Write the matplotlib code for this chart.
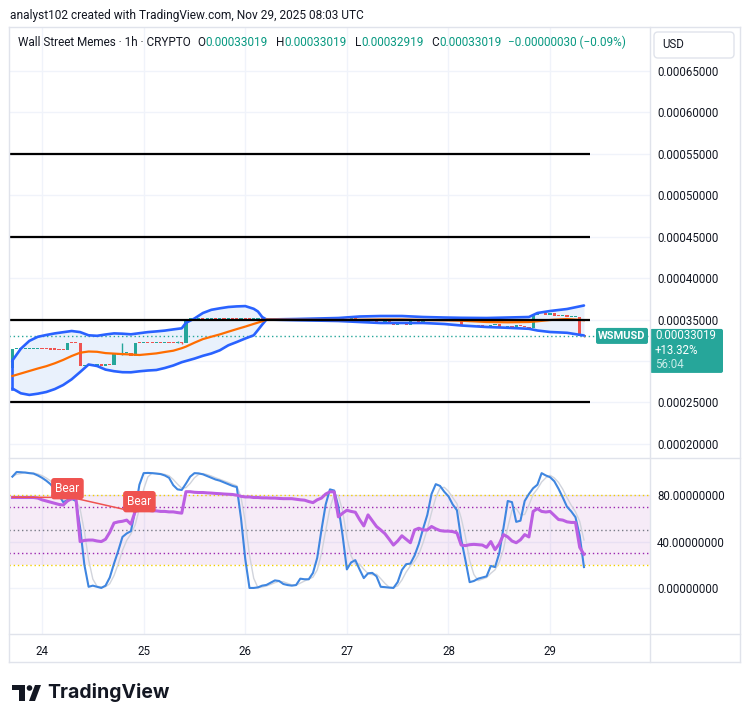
import numpy as np
import pandas as pd
import matplotlib
matplotlib.use("Agg")
import matplotlib.pyplot as plt
from matplotlib.patches import Rectangle, FancyBboxPatch, Circle, Polygon

plt.rcParams['font.family'] = ['Roboto', 'DejaVu Sans']

# WSMUSD 1h candles, hours counted from Nov 24 00:00 UTC, prices in 1e-8 USD
first_open = 29150
closes = [
    31400, 31410, 31420, 31425, 31430, 31440, 31445,
    31420, 31400, 31380, 31360, 31340, 31300, 32180, 32150, 32120, 29390,
    29430, 29480, 29440, 29470, 29430, 29480, 29450, 30920, 30700, 30950,
    31000, 30600, 32200, 32180, 32190, 32170, 32150, 32160, 32140, 32150,
    32130, 32110, 32250, 32150, 35000, 35010, 34995, 35005, 34990, 35000,
    35010, 34995, 35000, 34990, 35005, 35000, 34995, 35010, 35000, 34990,
    35000, 35005, 34995, 35000, 35010, 35000, 34995, 35000, 35005, 34990,
    35000, 35010, 35000, 34995, 35005, 35000, 35010, 35000,
    35181, 34940, 35302, 34819, 35060, 35181, 34698, 34940, 34578, 34819,
    35060, 34698, 34457, 34819, 34698,
    34336, 34698, 34578, 34336, 34879, 34819, 34698, 34819, 34879, 34940,
    34930, 34903, 34940, 34910, 34940, 34880, 34216,
    34220, 34200, 34230, 34210, 34180,
    34035, 34336, 34457, 34095, 33974, 34276, 34095, 34336, 34216, 34035, 33938,
    35543, 35784, 35820, 35603, 35808, 35422, 35398, 35483, 35302, 35326, 35338,
    33049, 33019,
]
hours = np.arange(len(closes)) - 7

wick_hours = [-7, 19, 32, 33, 128]
wick_highs = [31400, 32200, 32350, 32300, 33019]
wick_lows = [28700, 30700, 32150, 32050, 32919]

# bollinger bands
bb_hours = [-7, -5, -3, -1, 1, 3, 5, 7, 9, 11, 13, 15, 17, 19, 21, 23, 25, 27, 29, 31, 33,
            34, 36, 38, 40, 42, 44, 46, 48, 50, 51, 52, 53,
            60, 70, 75, 80, 85, 90, 95, 99, 105, 110, 115, 117, 120, 124, 128]
bb_upper = [30053, 31477, 32418, 32913, 33130, 33323, 33468, 33612, 33480, 33094, 33033,
            33190, 33323, 33287, 33214, 33347, 33480, 33564, 33661, 33805, 33938,
            34602, 35121, 35784, 36170, 36351, 36508, 36581, 36617, 36291, 35965, 35302, 35000,
            35060, 35181, 35362, 35422, 35422, 35302, 35241, 35205, 35181, 35241, 35302,
            35784, 36025, 36267, 36689]
bb_mid = [28183, 28484, 28786, 29088, 29365, 29715, 30125, 30596, 30994, 31139, 31103,
          30946, 30885, 30825, 30777, 30717, 30813, 30910, 31079, 31235, 31537,
          31730, 32201, 32635, 32925, 33202, 33528, 33842, 34143, 34469, 34626, 34783, 35000,
          34964, 34940, 34964, 35000, 35000, 34940, 34903, 34855, 34698, 34662, 34698,
          34783, 34940, 35060, 34916]
bb_lower = [26674, 26095, 25902, 26047, 26252, 26602, 27097, 27785, 28665, 29570, 29389,
            28955, 28762, 28641, 28629, 28750, 28846, 28907, 29148, 29450, 29848,
            29993, 30282, 30620, 30898, 31284, 31887, 32285, 32707, 33094, 33733, 34385, 35000,
            34916, 34819, 34698, 34578, 34578, 34578, 34457, 34276, 34095, 33999, 33878,
            33673, 33492, 33396, 33070]

levels = [55000, 45000, 35000, 25000]
price_ticks = [20000, 25000, 30000, 35000, 40000, 45000, 50000, 55000, 60000, 65000]

# stoch rsi %K and rsi, one value per candle
stoch_k = [
    96, 100, 99.8, 99.5, 99, 98.6, 97,
    95, 92.5, 89.5, 85, 80, 74, 75.7, 77, 75, 52,
    20, 1, 2, 1, 0, 2, 9, 21, 32, 44,
    47, 49, 67, 89, 99, 99.2, 99, 98.6, 98.2, 97,
    95, 88.6, 85, 84.5, 90, 96, 99, 98.8, 98, 96.5,
    95, 93.5, 92.5, 91, 89.5, 88, 87, 60, 25, 0,
    0, 0.5, 2, 2.6, 4.5, 6.5, 6, 3.4, 2.5, 2,
    2.5, 8, 7.5, 7.5, 13, 26, 50, 72, 85, 84,
    70, 45, 16, 22, 24, 16, 8.5, 12.6, 13, 10,
    1, 0.7, 0.3, 0, 5, 15.5, 20.5, 21, 28, 38,
    51, 63, 81, 89.5, 88, 83, 79, 72, 67, 42,
    24, 5, 6, 8, 9, 10, 19, 18, 30, 52,
    75, 74, 57, 58, 75, 81, 86, 89, 99, 97,
    95.5, 92, 85.5, 78, 70, 66, 61, 45, 18,
]
rsi = [
    78, 78, 78, 78, 78, 78, 77.5,
    76, 75, 74, 73, 72, 71.5, 75, 77, 77.7, 40,
    41, 41.3, 41.3, 40.5, 40, 42, 48, 56, 57, 57.5,
    58.5, 55, 66, 67, 67, 67, 66.5, 66.5, 66, 66,
    65.6, 65.6, 65, 64.5, 83, 83, 82.5, 82.3, 82.3, 82,
    81.8, 81.5, 81.3, 81, 80.8, 80.6, 80, 79, 78.5, 78.5,
    78, 78, 77.7, 77.7, 77.5, 77.5, 77.2, 77, 77, 77,
    76.5, 76, 75.7, 74.5, 73.6, 76, 77.5, 81, 82.9, 82.9,
    61.3, 64.5, 67, 66, 65.3, 59, 53.5, 63, 58, 53,
    50, 46.8, 42, 37, 40.5, 45, 42, 39, 50, 51.5,
    50, 50, 53, 51, 49.5, 49, 49, 48.6, 47.5, 37,
    36.5, 37.3, 37.6, 37.3, 37, 35, 40, 33, 38, 46,
    44, 40.5, 39, 41.5, 46, 44, 66, 68.4, 66, 65.5,
    66, 62.5, 59, 58.5, 57, 56.5, 56.5, 35, 29,
]
bear_hours = [-7, 7, 22]
bear_rsi = [78.3, 78.0, 65.6]
bear_label_hours = [6, 23]
bear_label_vals = [85.6, 74.4]

day_ticks = [0, 24, 48, 72, 96, 120]
day_labels = ['24', '25', '26', '27', '28', '29']

GREEN = '#26a69a'
RED = '#ef5350'
TEAL = '#089981'
DARK = '#131722'
GRID = '#f0f3fa'
BORDER = '#e0e3eb'

W, H = 750, 723
fig = plt.figure(figsize=(W / 100, H / 100), dpi=100)
fig.patch.set_facecolor('white')


def px_axes(x0, y0, x1, y1):
    return fig.add_axes([x0 / W, 1 - y1 / H, (x1 - x0) / W, (y1 - y0) / H])


ax = px_axes(9, 27, 650, 458)
ax2 = px_axes(9, 459, 650, 634)

xlim = (-7.8, 143.6)
for a in (ax, ax2):
    a.set_xlim(*xlim)
    a.set_facecolor('none')
    for s in a.spines.values():
        s.set_visible(False)
    a.yaxis.tick_right()
    a.tick_params(length=0, labelsize=8.3, labelcolor=DARK, pad=5)
    a.set_xticks(day_ticks)
    a.grid(True, color=GRID, lw=1)
    a.set_axisbelow(True)

ax.set_ylim(18289, 70293)
ax.set_yticks(price_ticks)
# the 0.00030000 label sits under the last price box
ax.set_yticklabels(['' if v == 30000 else f'{v * 1e-8:.8f}' for v in price_ticks])
ax.set_xticklabels([])

# bollinger bands
ax.fill_between(bb_hours, bb_lower, bb_upper, color='#e9f1fc', zorder=1, lw=0)

# candles
closes_a = np.array(closes, dtype=float)
opens = np.r_[first_open, closes_a[:-1]]
up = closes_a >= opens
colors = np.where(up, GREEN, RED)
body_lo = np.minimum(opens, closes_a)
body_h = np.maximum(np.abs(closes_a - opens), 150)
ax.bar(hours, body_h, bottom=body_lo, width=0.75, color=colors, lw=0, zorder=2)
wick_col = [colors[list(hours).index(h)] for h in wick_hours]
ax.vlines(wick_hours, wick_lows, wick_highs, colors=wick_col, lw=1, zorder=2)

ax.plot(bb_hours, bb_upper, color='#2962ff', lw=1.9, zorder=3, solid_capstyle='round')
ax.plot(bb_hours, bb_lower, color='#2962ff', lw=1.9, zorder=3, solid_capstyle='round')
ax.plot([bb_hours[0], bb_hours[0]], [bb_lower[0], bb_upper[0]], color='#2962ff', lw=1.9, zorder=3)
ax.plot(bb_hours, bb_mid, color='#ff6d00', lw=1.6, zorder=3)

ax.hlines(levels, hours[0] - 0.5, hours[-1] + 1.5, color='black', lw=1.6, zorder=4)
ax.axhline(closes[-1], color=GREEN, lw=1, ls=(0, (1, 2)), zorder=2)

# indicator pane
ax2.set_ylim(-39.7, 111.2)
ax2.set_yticks([0, 40, 80])
ax2.set_yticklabels(['0.00000000', '40.00000000', '80.00000000'])
ax2.set_xticklabels(day_labels)
ax2.tick_params(axis='x', pad=8)
ax2.axhspan(20, 80, color='#9c27b0', alpha=0.09, lw=0, zorder=1)
ax2.axhline(80, color='#f2d000', lw=1, ls=(0, (1, 2)), zorder=2)
ax2.axhline(20, color='#f2d000', lw=1, ls=(0, (1, 2)), zorder=2)
ax2.axhline(70, color='#9c27b0', lw=1, ls=(0, (1, 2)), zorder=2)
ax2.axhline(30, color='#9c27b0', lw=1, ls=(0, (1, 2)), zorder=2)
ax2.axhline(50, color='#787b86', lw=1, ls=(0, (1, 2)), zorder=2)

stoch_d = pd.Series(stoch_k).rolling(3, min_periods=1).mean()
ax2.plot(hours, stoch_d, color='#d1d4dc', lw=1, zorder=3)
ax2.plot(hours, stoch_k, color='#3f86e0', lw=1.5, zorder=4)
ax2.plot(hours, rsi, color='#bc5fe2', lw=2.2, zorder=4)
ax2.plot(bear_hours, bear_rsi, color=RED, lw=1.1, zorder=5)
for h, v in zip(bear_label_hours, bear_label_vals):
    ax2.text(h, v, 'Bear', color='white', fontsize=8.6, ha='center', va='center', zorder=6,
             bbox=dict(boxstyle='round,pad=0.35,rounding_size=0.25', fc=RED, ec='none'))

# overlay in pixel coordinates for frame, legend and labels
ov = fig.add_axes([0, 0, 1, 1], zorder=10)
ov.set_xlim(0, W)
ov.set_ylim(H, 0)
ov.axis('off')
ov.patch.set_alpha(0)

for x0, y0, x1, y1 in [(9, 27, 740, 27), (9, 662, 740, 662), (9, 27, 9, 662), (740, 27, 740, 662),
                       (650, 27, 650, 662), (9, 458, 740, 458), (9, 634, 740, 634)]:
    ov.plot([x0, x1], [y0, y1], color=BORDER, lw=1)

ov.text(10, 15, 'analyst102 created with TradingView.com, Nov 29, 2025 08:03 UTC',
        fontsize=8.6, color=DARK, va='center')

renderer = fig.canvas.get_renderer()
pieces = [('Wall Street Memes · 1h · CRYPTO', DARK, 7), ('O', DARK, 0), ('0.00033019', TEAL, 8),
          ('H', DARK, 0), ('0.00033019', TEAL, 8), ('L', DARK, 0), ('0.00032919', TEAL, 8),
          ('C', DARK, 0), ('0.00033019', TEAL, 7), ('\u22120.00000030 (\u22120.09%)', TEAL, 0)]
x = 18
for txt, col, gap in pieces:
    t = ov.text(x, 42, txt, fontsize=8.5, color=col, va='center', ha='left')
    x += t.get_window_extent(renderer).width + gap

ov.add_patch(FancyBboxPatch((654, 32), 80, 26, boxstyle='round,pad=0,rounding_size=4',
                            fc='white', ec=BORDER, lw=1))
ov.text(662, 45, 'USD', fontsize=8.3, color=DARK, va='center')

# last price labels
y_last = H - ax.transData.transform((0, closes[-1]))[1]
ov.add_patch(FancyBboxPatch((650, y_last - 7), 73, 44, boxstyle='round,pad=0,rounding_size=2',
                            fc=GREEN, ec='none'))
ov.text(655, y_last, f'{closes[-1] * 1e-8:.8f}', fontsize=8.3, color='white', va='center')
ov.text(655, y_last + 14.5, '+13.32%', fontsize=8.3, color='white', va='center')
ov.text(655, y_last + 29, '56:04', fontsize=8.3, color='#c8ece8', va='center')
ov.add_patch(FancyBboxPatch((596, y_last - 8), 52, 16, boxstyle='round,pad=0,rounding_size=2',
                            fc=GREEN, ec='none'))
ov.text(622, y_last, 'WSMUSD', fontsize=8, color='white', va='center', ha='center',
        fontweight='bold')

# TradingView logo
ov.add_patch(Rectangle((12, 685), 13, 5, fc=DARK, ec='none'))
ov.add_patch(Rectangle((19, 685), 6, 16, fc=DARK, ec='none'))
ov.add_patch(Circle((29.5, 688), 2.8, fc=DARK, ec='none'))
ov.add_patch(Polygon([(29, 701), (35, 701), (41, 685), (35, 685)], closed=True, fc=DARK, ec='none'))
ov.text(47, 693, 'TradingView', fontsize=14, fontweight='bold', color=DARK, va='center',
        family=['Inter', 'Roboto', 'DejaVu Sans'])

fig.savefig('out.png', dpi=100)
